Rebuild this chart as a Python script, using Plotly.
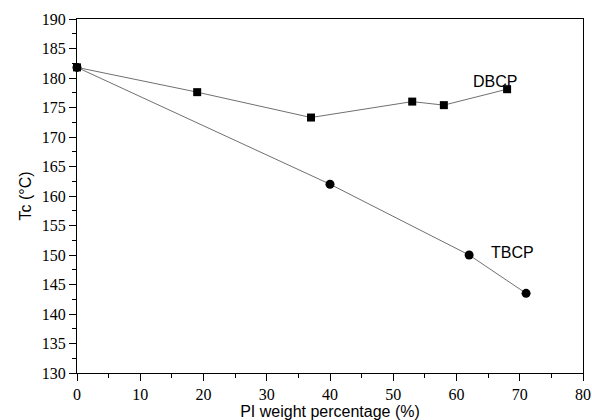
import plotly.graph_objects as go

dbcp_x = [0, 19, 37, 53, 58, 68]
dbcp_y = [181.8, 177.6, 173.3, 176.0, 175.4, 178.1]
tbcp_x = [0, 40, 62, 71]
tbcp_y = [181.8, 162.0, 150.0, 143.5]

fig = go.Figure()
fig.add_trace(go.Scatter(x=dbcp_x, y=dbcp_y, mode="lines+markers",
                         line=dict(color="#707070", width=1),
                         marker=dict(symbol="square", size=8, color="black"),
                         cliponaxis=False, showlegend=False))
fig.add_trace(go.Scatter(x=tbcp_x, y=tbcp_y, mode="lines+markers",
                         line=dict(color="#707070", width=1),
                         marker=dict(symbol="circle", size=9, color="black"),
                         cliponaxis=False, showlegend=False))

SANS = "Liberation Sans"
SERIF = "Liberation Serif"

fig.add_annotation(x=66.1, y=179.4, text="DBCP", showarrow=False,
                   font=dict(family=SANS, size=16, color="black"))
fig.add_annotation(x=68.8, y=150.4, text="TBCP", showarrow=False,
                   font=dict(family=SANS, size=16, color="black"))

axis_common = dict(showgrid=False, zeroline=False, showline=True, linecolor="black",
                   linewidth=1.2, mirror=True, ticks="outside", ticklen=7, tickwidth=1.2,
                   tickcolor="black", automargin=False,
                   tickfont=dict(family=SERIF, size=16, color="black"))

fig.update_xaxes(range=[0, 80], dtick=10, tick0=0,
                 minor=dict(dtick=5, ticks="outside", ticklen=4, tickwidth=1.2, tickcolor="black"),
                 title=dict(text="PI weight percentage (%)", standoff=2,
                            font=dict(family=SANS, size=16, color="black")),
                 **axis_common)
fig.update_yaxes(range=[130, 190], dtick=5, tick0=130,
                 minor=dict(dtick=2.5, ticks="outside", ticklen=4, tickwidth=1.2, tickcolor="black"),
                 title=dict(text="Tc (°C)", standoff=6,
                            font=dict(family=SANS, size=16, color="black")),
                 **axis_common)

fig.update_layout(width=592, height=420, margin=dict(l=77, r=9, t=19, b=47),
                  plot_bgcolor="white", paper_bgcolor="white",
                  font=dict(family=SERIF))

fig.write_html("out.html")
